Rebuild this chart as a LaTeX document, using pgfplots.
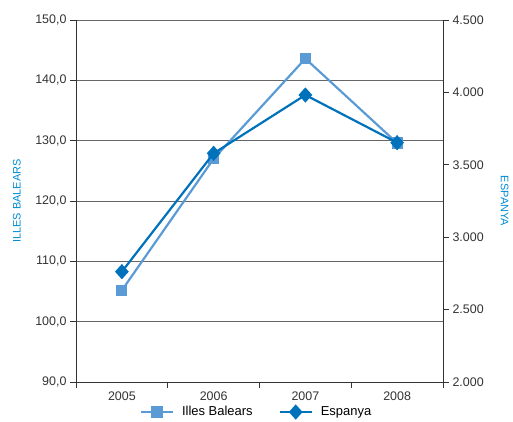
\documentclass[border=0pt]{standalone}
\usepackage{pgfplots}
\pgfplotsset{compat=1.18}
\usepackage{fontspec}
\setmainfont{Liberation Sans}
\definecolor{lightb}{RGB}{91,155,213}
\definecolor{darkb}{RGB}{0,114,188}
\definecolor{labb}{RGB}{0,140,210}
\definecolor{tickc}{RGB}{51,51,51}
\begin{document}
\begin{tikzpicture}
\path[use as bounding box] (-76bp,-40bp) rectangle (437bp,382bp);
\pgfplotsset{
  every axis/.append style={
    scale only axis, width=367bp, height=362bp,
    xmin=0.5, xmax=4.5,
    tick label style={font=\fontsize{12.5}{14}\selectfont, text=tickc},
    /pgf/number format/assume math mode=true,
    axis line style={draw=tickc, line width=1pt},
    major tick length=6bp,
    tick align=outside,
    tick style={draw=tickc, line width=0.8pt},
  }
}
\begin{axis}[
  at={(0,0)}, anchor=south west,
  ymin=90, ymax=150,
  ytick={90,100,...,150},
  axis x line*=bottom, axis y line*=left,
  yticklabel style={/pgf/number format/.cd, use comma, fixed, fixed zerofill, precision=1},
  ymajorgrids, grid style={draw=gray!80!black, line width=0.8pt},
  xtick={0.5,1.5,2.5,3.5,4.5},
  x tick label as interval,
  xticklabels={2005,2006,2007,2008},
  ylabel={ILLES BALEARS},
  ylabel style={font=\fontsize{11}{13}\selectfont, text=labb, anchor=center, at={(axis description cs:-0.161,0.5)}},
  legend style={at={(0.492,-0.083)}, anchor=center, draw=none, fill=none,
     legend columns=2, font=\fontsize{13}{15}\selectfont,
     /tikz/every odd column/.append style={column sep=6bp},
     /tikz/every even column/.append style={column sep=24bp}},
  legend image code/.code={
     \draw[#1, mark repeat=2, mark phase=2] plot coordinates {(0bp,0bp) (16bp,0bp) (32bp,0bp)};},
]
\addplot[color=lightb, line width=2.2pt, mark=square*, mark size=4.5bp, mark options={solid}]
  coordinates {(1,105.2) (2,127.0) (3,143.6) (4,129.6)};
\addlegendentry{Illes Balears}
\addlegendimage{color=darkb, line width=2.2pt, mark=diamond*, mark size=6bp, mark options={solid, xscale=1.2}}
\addlegendentry{Espanya}
\end{axis}
\begin{axis}[
  at={(0,0)}, anchor=south west,
  ymin=2000, ymax=4500,
  ytick={2000,2500,...,4500},
  axis x line=none, axis y line*=right,
  yticklabel style={/pgf/number format/.cd, fixed, precision=0, 1000 sep={.}},
  ylabel={ESPANYA},
  ylabel style={font=\fontsize{11}{13}\selectfont, text=labb, anchor=center, rotate=180, at={(axis description cs:1.168,0.5)}},
]
\addplot[color=darkb, line width=2.2pt, mark=diamond*, mark size=6bp, mark options={solid, xscale=1.2}]
  coordinates {(1,2762) (2,3579) (3,3982) (4,3653)};
\end{axis}
\end{tikzpicture}
\end{document}
